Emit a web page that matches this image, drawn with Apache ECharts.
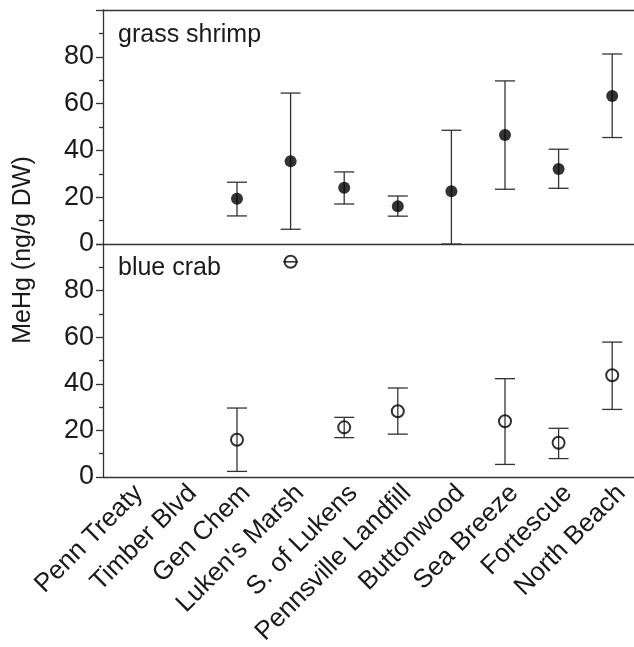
<!DOCTYPE html>
<html>
<head>
<meta charset="utf-8">
<script src="https://cdn.jsdelivr.net/npm/echarts@6/dist/echarts.min.js"></script>
<style>
html,body{margin:0;padding:0;background:#fff;}
#chart{width:634px;height:647px;}
</style>
</head>
<body>
<div id="chart"></div>
<script>
const categories = ["Penn Treaty","Timber Blvd","Gen Chem","Luken's Marsh","S. of Lukens","Pennsville Landfill","Buttonwood","Sea Breeze","Fortescue","North Beach"];
const shrimpMean = [null, null, 19.3, 35.4, 24.0, 16.1, 22.5, 46.6, 32.1, 63.2];
const shrimpLo   = [null, null, 12.0,  6.3, 17.1, 11.9,  0.0, 23.4, 23.8, 45.5];
const shrimpHi   = [null, null, 26.4, 64.5, 30.8, 20.5, 48.6, 69.7, 40.5, 81.2];
const crabMean   = [null, null, 16.0, 92.4, 21.3, 28.2, null, 23.9, 14.7, 43.7];
const crabLo     = [null, null,  2.4, 92.4, 16.9, 18.4, null,  5.4,  7.9, 29.0];
const crabHi     = [null, null, 29.6, 92.4, 25.6, 38.2, null, 42.2, 20.9, 57.9];
const yTicks = [0, 20, 40, 60, 80];
const panelTitles = ["grass shrimp", "blue crab"];
const yAxisTitle = "MeHg (ng/g DW)";

const FONT = '"Liberation Sans", Arial, sans-serif';
const INK = '#1a1a1a';
const LINE = '#333';

function errData(lo, hi) {
  return categories.map((c, i) => (lo[i] == null ? [i, null, null] : [i, lo[i], hi[i]]));
}
function ptData(m) {
  return categories.map((c, i) => [i, m[i]]);
}
function renderErr(params, api) {
  const lo = api.value(1), hi = api.value(2);
  if (lo == null || hi == null || isNaN(lo) || isNaN(hi)) return null;
  const x = api.value(0);
  const pLo = api.coord([x, lo]);
  const pHi = api.coord([x, hi]);
  const cap = (lo === hi) ? 7 : 10;
  const style = {stroke: LINE, lineWidth: 1.3, fill: null};
  return {
    type: 'group',
    children: [
      {type: 'line', shape: {x1: pLo[0], y1: pLo[1], x2: pHi[0], y2: pHi[1]}, style: style},
      {type: 'line', shape: {x1: pLo[0] - cap, y1: pLo[1], x2: pLo[0] + cap, y2: pLo[1]}, style: style},
      {type: 'line', shape: {x1: pHi[0] - cap, y1: pHi[1], x2: pHi[0] + cap, y2: pHi[1]}, style: style}
    ]
  };
}

function yAxisOpt(gi) {
  return {
    gridIndex: gi, type: 'value', min: 0, max: 100, interval: 20,
    axisLine: {show: true, lineStyle: {color: LINE, width: 1.3}},
    axisTick: {show: true, length: 7, lineStyle: {color: LINE, width: 1.3}},
    minorTick: {show: true, splitNumber: 2, length: 4, lineStyle: {color: LINE, width: 1.3}},
    splitLine: {show: false},
    axisLabel: {
      fontFamily: FONT, fontSize: 27, color: INK, margin: 9,
      formatter: v => (yTicks.indexOf(v) >= 0 ? String(v) : '')
    }
  };
}
function xLine(gi, pos, labels) {
  return {
    gridIndex: gi, type: 'category', data: categories, position: pos,
    axisLine: {lineStyle: {color: LINE, width: 1.3}}, axisTick: {show: false},
    axisLabel: labels
      ? {interval: 0, rotate: 45, fontFamily: FONT, fontSize: 26, color: INK, margin: 3, align: 'right', verticalAlign: 'top'}
      : {show: false},
    splitLine: {show: false}
  };
}

const chart = echarts.init(document.getElementById('chart'), null, {renderer: 'canvas'});
chart.setOption({
  animation: false,
  grid: [
    {left: 103, top: 10, width: 536, height: 234, outerBoundsMode: 'none', show: false},
    {left: 103, top: 244, width: 536, height: 233, outerBoundsMode: 'none', show: false}
  ],
  xAxis: [xLine(0, 'bottom', false), xLine(1, 'bottom', true), xLine(0, 'top', false)],
  yAxis: [yAxisOpt(0), yAxisOpt(1)],
  graphic: [
    {type: 'text', left: 118, top: 23, style: {text: panelTitles[0], font: '25px ' + FONT, fill: INK}},
    {type: 'text', left: 118, top: 256, style: {text: panelTitles[1], font: '25px ' + FONT, fill: INK}},
    {type: 'text', x: 23, y: 250, rotation: Math.PI / 2,
     style: {text: yAxisTitle, font: '25px ' + FONT, fill: INK, textAlign: 'center', textVerticalAlign: 'middle'}}
  ],
  series: [
    {type: 'custom', xAxisIndex: 0, yAxisIndex: 0, data: errData(shrimpLo, shrimpHi), renderItem: renderErr, z: 2, encode: {x: 0, y: [1, 2]}},
    {type: 'scatter', xAxisIndex: 0, yAxisIndex: 0, data: ptData(shrimpMean), symbol: 'circle', symbolSize: 12,
     itemStyle: {color: '#000'}, z: 3},
    {type: 'custom', xAxisIndex: 1, yAxisIndex: 1, data: errData(crabLo, crabHi), renderItem: renderErr, z: 2, encode: {x: 0, y: [1, 2]}},
    {type: 'scatter', xAxisIndex: 1, yAxisIndex: 1, data: ptData(crabMean), symbol: 'circle', symbolSize: 12,
     itemStyle: {color: 'rgba(0,0,0,0)', borderColor: '#000', borderWidth: 2}, z: 3}
  ]
});
</script>
</body>
</html>
